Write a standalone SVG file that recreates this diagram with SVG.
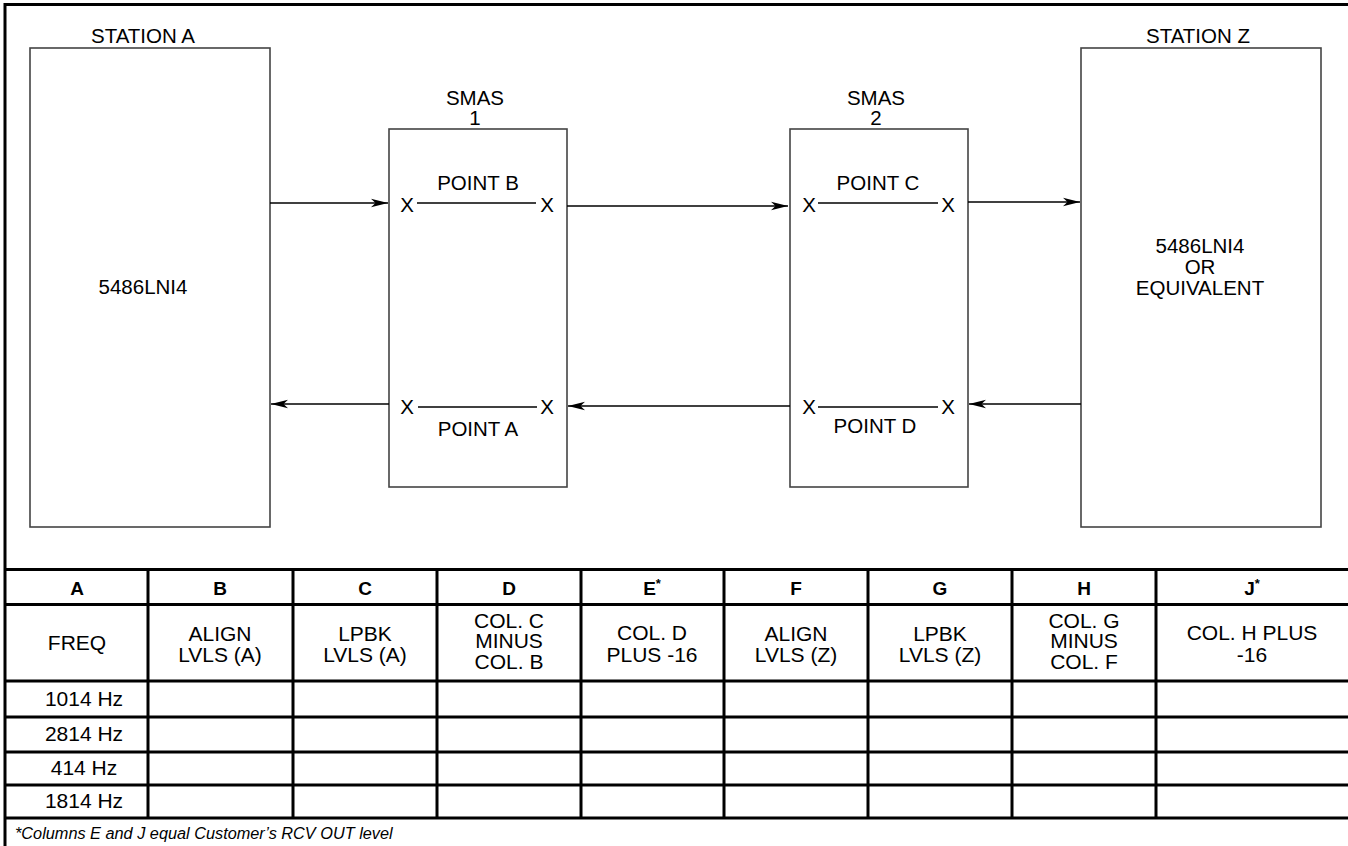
<svg xmlns="http://www.w3.org/2000/svg" width="1348" height="846" viewBox="0 0 1348 846">
<defs>
<marker id="arr" markerUnits="userSpaceOnUse" markerWidth="18" markerHeight="10" refX="17" refY="5" orient="auto">
<path d="M0,0.8 L17,5 L0,9.2 L4.5,5 z" fill="#000"/>
</marker>
<style>
.t{font-family:"Liberation Sans",Arial,sans-serif;font-size:20.5px;fill:#000;text-anchor:middle}
.tt{font-family:"Liberation Sans",Arial,sans-serif;font-size:21px;fill:#000;text-anchor:middle}
.tb{font-family:"Liberation Sans",Arial,sans-serif;font-size:19px;font-weight:bold;fill:#000;text-anchor:middle}
.fn{font-family:"Liberation Sans",Arial,sans-serif;font-size:16.3px;font-style:italic;fill:#000}
.box{fill:#fff;stroke:#444;stroke-width:1.6}
.ln{stroke:#000;stroke-width:1.3;fill:none}
.cn{stroke:#000;stroke-width:1.3;fill:none;marker-end:url(#arr)}
.thk{stroke:#000;stroke-width:3;fill:none}
</style>
</defs>
<rect width="1348" height="846" fill="#fff"/>
<!-- frame -->
<path class="thk" d="M5,846 V4.5 H1348" stroke-width="3.5"/>

<g id="stationA">
<rect class="box" x="30" y="48" width="240" height="479"/>
<text class="t" x="143" y="43">STATION A</text>
<text class="t" x="143" y="294">5486LNI4</text>
</g>

<g id="smas1">
<rect class="box" x="389" y="129" width="178" height="358"/>
<text class="t" x="475" y="105">SMAS</text>
<text class="t" x="475" y="125">1</text>
<text class="t" x="407" y="212">X</text>
<text class="t" x="547" y="212">X</text>
<line class="ln" x1="417" y1="203" x2="536" y2="203"/>
<text class="t" x="478" y="190">POINT B</text>
<text class="t" x="407" y="414">X</text>
<text class="t" x="547" y="414">X</text>
<line class="ln" x1="418" y1="407" x2="537" y2="407"/>
<text class="t" x="478" y="436">POINT A</text>
</g>

<g id="smas2">
<rect class="box" x="790" y="129" width="178" height="358"/>
<text class="t" x="876" y="105">SMAS</text>
<text class="t" x="876" y="125">2</text>
<text class="t" x="809" y="212">X</text>
<text class="t" x="948" y="212">X</text>
<line class="ln" x1="818" y1="203" x2="938" y2="203"/>
<text class="t" x="878" y="190">POINT C</text>
<text class="t" x="809" y="414">X</text>
<text class="t" x="948" y="414">X</text>
<line class="ln" x1="818" y1="407" x2="938" y2="407"/>
<text class="t" x="875" y="433">POINT D</text>
</g>

<g id="stationZ">
<rect class="box" x="1081" y="48" width="240" height="479"/>
<text class="t" x="1198" y="43">STATION Z</text>
<text class="t" x="1200" y="253">5486LNI4</text>
<text class="t" x="1200" y="274">OR</text>
<text class="t" x="1200" y="295">EQUIVALENT</text>
</g>

<g id="connectors">
<line class="cn" x1="270" y1="203" x2="388" y2="203"/>
<line class="cn" x1="567" y1="206" x2="788" y2="206"/>
<line class="cn" x1="968" y1="202" x2="1080" y2="202"/>
<line class="cn" x1="1081" y1="404" x2="969" y2="404"/>
<line class="cn" x1="790" y1="406" x2="568" y2="406"/>
<line class="cn" x1="389" y1="404" x2="271" y2="404"/>
</g>

<g id="table">
<path class="thk" d="M5,569.5 H1348 M5,604.5 H1348 M5,681 H1348 M5,717 H1348 M5,752 H1348 M5,785 H1348 M5,818 H1348"/>
<path class="thk" d="M148,569 V818 M293,569 V818 M437,569 V818 M581,569 V818 M724,569 V818 M868,569 V818 M1012,569 V818 M1156,569 V818"/>
<text class="tb" x="77" y="595">A</text>
<text class="tb" x="220" y="595">B</text>
<text class="tb" x="365" y="595">C</text>
<text class="tb" x="509" y="595">D</text>
<text class="tb" x="652" y="595">E<tspan font-size="13" dy="-7">*</tspan></text>
<text class="tb" x="796" y="595">F</text>
<text class="tb" x="940" y="595">G</text>
<text class="tb" x="1084" y="595">H</text>
<text class="tb" x="1252" y="595">J<tspan font-size="13" dy="-7">*</tspan></text>

<text class="tt" x="77" y="650">FREQ</text>
<text class="tt" x="220" y="641">ALIGN</text>
<text class="tt" x="220" y="662">LVLS (A)</text>
<text class="tt" x="365" y="641">LPBK</text>
<text class="tt" x="365" y="662">LVLS (A)</text>
<text class="tt" x="509" y="628">COL. C</text>
<text class="tt" x="509" y="648">MINUS</text>
<text class="tt" x="509" y="669">COL. B</text>
<text class="tt" x="652" y="640">COL. D</text>
<text class="tt" x="652" y="662">PLUS -16</text>
<text class="tt" x="796" y="641">ALIGN</text>
<text class="tt" x="796" y="662">LVLS (Z)</text>
<text class="tt" x="940" y="641">LPBK</text>
<text class="tt" x="940" y="662">LVLS (Z)</text>
<text class="tt" x="1084" y="628">COL. G</text>
<text class="tt" x="1084" y="648">MINUS</text>
<text class="tt" x="1084" y="669">COL. F</text>
<text class="tt" x="1252" y="640">COL. H PLUS</text>
<text class="tt" x="1252" y="662">-16</text>

<text class="tt" x="84" y="706">1014 Hz</text>
<text class="tt" x="84" y="741">2814 Hz</text>
<text class="tt" x="84" y="775">414 Hz</text>
<text class="tt" x="84" y="808">1814 Hz</text>
</g>

<text class="fn" x="15" y="839">*Columns E and J equal Customer’s RCV OUT level</text>
</svg>
